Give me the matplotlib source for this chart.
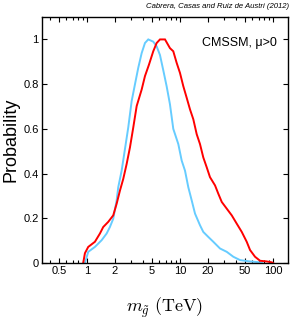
import matplotlib
matplotlib.use("Agg")
import matplotlib.pyplot as plt
from matplotlib.ticker import FixedLocator, FixedFormatter, LogLocator, NullFormatter

# Red curve
red_x = [0.912, 0.952, 1.033, 1.219, 1.38, 1.497, 1.694, 1.917, 2.086, 2.264, 2.456,
         2.672, 2.90, 3.147, 3.424, 3.875, 4.204, 4.64, 5.16, 5.614, 6.096, 6.90,
         7.80, 8.47, 9.21, 10.0, 10.85, 11.8, 12.81, 13.9, 15.12, 16.4, 17.8, 19.37,
         21.0, 23.8, 25.8, 28.1, 31.8, 36.0, 40.7, 46.1, 52.1, 56.6, 64.0, 72.5,
         85.5, 96.9, 100.0]
red_y = [0.0, 0.044, 0.072, 0.095, 0.132, 0.161, 0.184, 0.213, 0.265, 0.324, 0.376,
         0.443, 0.517, 0.606, 0.702, 0.776, 0.836, 0.887, 0.947, 0.984, 1.0, 1.0,
         0.961, 0.947, 0.895, 0.85, 0.791, 0.739, 0.687, 0.643, 0.576, 0.532, 0.472,
         0.428, 0.384, 0.347, 0.31, 0.273, 0.243, 0.213, 0.176, 0.139, 0.095, 0.058,
         0.028, 0.01, 0.007, 0.003, 0.0]

# Blue curve
blue_x = [0.952, 1.033, 1.219, 1.439, 1.629, 1.766, 1.917, 2.086, 2.171, 2.361, 2.563,
          2.78, 3.024, 3.281, 3.561, 3.875, 4.204, 4.56, 5.16, 5.614, 6.096, 6.613,
          7.19, 7.80, 8.47, 9.59, 10.43, 11.32, 12.28, 13.36, 14.5, 16.4, 17.8, 20.1,
          22.8, 26.9, 31.8, 37.4, 44.2, 56.6, 72.5, 76.2]
blue_y = [0.0, 0.05, 0.072, 0.102, 0.132, 0.161, 0.198, 0.28, 0.339, 0.413, 0.51,
          0.606, 0.724, 0.799, 0.873, 0.939, 0.984, 1.0, 0.99, 0.969, 0.93, 0.862,
          0.79, 0.71, 0.6, 0.532, 0.458, 0.413, 0.339, 0.28, 0.221, 0.169, 0.139,
          0.117, 0.095, 0.065, 0.05, 0.028, 0.013, 0.007, 0.003, 0.0]

x_ticks = [0.5, 1, 2, 5, 10, 20, 50, 100]
x_ticklabels = ["0.5", "1", "2", "5", "10", "20", "50", "100"]
y_ticks = [0, 0.2, 0.4, 0.6, 0.8, 1.0]
y_ticklabels = ["0", "0.2", "0.4", "0.6", "0.8", "1"]

plt.rcParams['font.family'] = ['Liberation Sans', 'DejaVu Sans']
plt.rcParams['mathtext.fontset'] = 'cm'

fig = plt.figure(figsize=(2.91, 3.19), dpi=100)
ax = fig.add_axes([0.143, 0.1755, 0.847, 0.771])

ax.plot(blue_x, blue_y, color='#66ccff', lw=1.4, solid_joinstyle='miter')
ax.plot(red_x, red_y, color='#ff0000', lw=1.4, solid_joinstyle='miter')

ax.set_xscale('log')
ax.set_xlim(0.326, 145)
ax.set_ylim(0, 1.1)

ax.xaxis.set_major_locator(FixedLocator(x_ticks))
ax.xaxis.set_major_formatter(FixedFormatter(x_ticklabels))
ax.xaxis.set_minor_locator(LogLocator(base=10, subs=range(2, 10), numticks=20))
ax.xaxis.set_minor_formatter(NullFormatter())
ax.yaxis.set_major_locator(FixedLocator(y_ticks))
ax.yaxis.set_major_formatter(FixedFormatter(y_ticklabels))

ax.tick_params(which='both', direction='in', top=True, right=True, labelsize=8, pad=2)
ax.tick_params(which='major', length=3.5, width=0.8)
ax.tick_params(which='minor', length=2.5, width=0.8)
for s in ax.spines.values():
    s.set_linewidth(1.0)

ax.set_ylabel('Probability', fontsize=13, labelpad=3)
ax.set_xlabel(r'$m_{\tilde{g}}\ \mathrm{(TeV)}$', fontsize=13, labelpad=14)

ax.text(0.955, 0.983, 'CMSSM, μ>0', transform=ax.get_yaxis_transform(),
        ha='right', va='center', fontsize=9)
fig.text(0.993, 0.981, 'Cabrera, Casas and Ruiz de Austri (2012)', ha='right', va='center',
         fontsize=5.6, style='italic')

fig.savefig('out.png', dpi=100)
